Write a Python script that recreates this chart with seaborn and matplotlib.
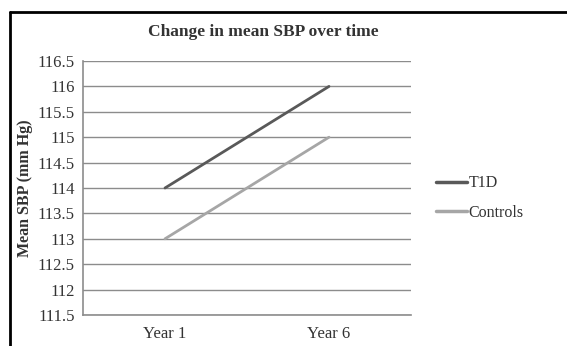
import matplotlib.pyplot as plt
import matplotlib.lines as mlines
import pandas as pd
import seaborn as sns

# Data
YEARS = ["Year 1", "Year 6"]
T1D = [114, 116]
CONTROLS = [113, 115]
Y_TICKS = [111.5, 112, 112.5, 113, 113.5, 114, 114.5, 115, 115.5, 116, 116.5]

df = pd.DataFrame({
    "year": YEARS * 2,
    "sbp": T1D + CONTROLS,
    "group": ["T1D"] * len(YEARS) + ["Controls"] * len(YEARS),
})

sns.set_style("white")
plt.rcParams["font.family"] = ["Liberation Serif", "DejaVu Serif"]

W, H = 567, 346
fig = plt.figure(figsize=(W / 100, H / 100), dpi=100)
ax = fig.add_axes([83 / W, 1 - 315 / H, (411 - 83) / W, (315 - 61) / H])

palette = {"T1D": "#595959", "Controls": "#a6a6a6"}
sns.lineplot(data=df, x="year", y="sbp", hue="group", palette=palette,
             linewidth=2, ax=ax, sort=False, legend=False)

ax.set_xlim(-0.5, 1.5)
ax.set_ylim(111.5, 116.5)
ax.set_yticks(Y_TICKS)
ax.set_yticklabels([f"{v:g}" for v in Y_TICKS])
ax.yaxis.grid(True, color="#8c8c8c", linewidth=1)
ax.set_axisbelow(True)
for s in ["top", "right"]:
    ax.spines[s].set_visible(False)
for s in ["left", "bottom"]:
    ax.spines[s].set_color("#8c8c8c")
    ax.spines[s].set_linewidth(1.2)
ax.tick_params(axis="both", length=0, labelsize=12, colors="#333333", pad=6)
ax.tick_params(axis="x", pad=8)
ax.set_xlabel("")
ax.set_ylabel("Mean SBP (mm Hg)", fontsize=11.5, fontweight="bold", color="#333333", labelpad=3)

fig.text(263 / W, 1 - 32 / H, "Change in mean SBP over time", ha="center", va="center",
         fontsize=12.5, fontweight="bold", color="#333333")

# legend drawn at right
handles = [mlines.Line2D([], [], color=palette[g], linewidth=2.5) for g in ["T1D", "Controls"]]
leg = fig.legend(handles, ["T1D", "Controls"], loc="center left",
                 bbox_to_anchor=(422 / W, 1 - 198 / H), frameon=False, fontsize=11.5,
                 handlelength=1.9, handletextpad=0.1, labelspacing=0.85)
for t in leg.get_texts():
    t.set_color("#333333")

# outer frame (left and top border visible)
fig.add_artist(mlines.Line2D([10 / W, 10 / W], [0, 1 - 12 / H], color="black", linewidth=2,
                             transform=fig.transFigure))
fig.add_artist(mlines.Line2D([10 / W, 1], [1 - 12 / H, 1 - 12 / H], color="black", linewidth=2,
                             transform=fig.transFigure))

fig.savefig("out.png", dpi=100)
